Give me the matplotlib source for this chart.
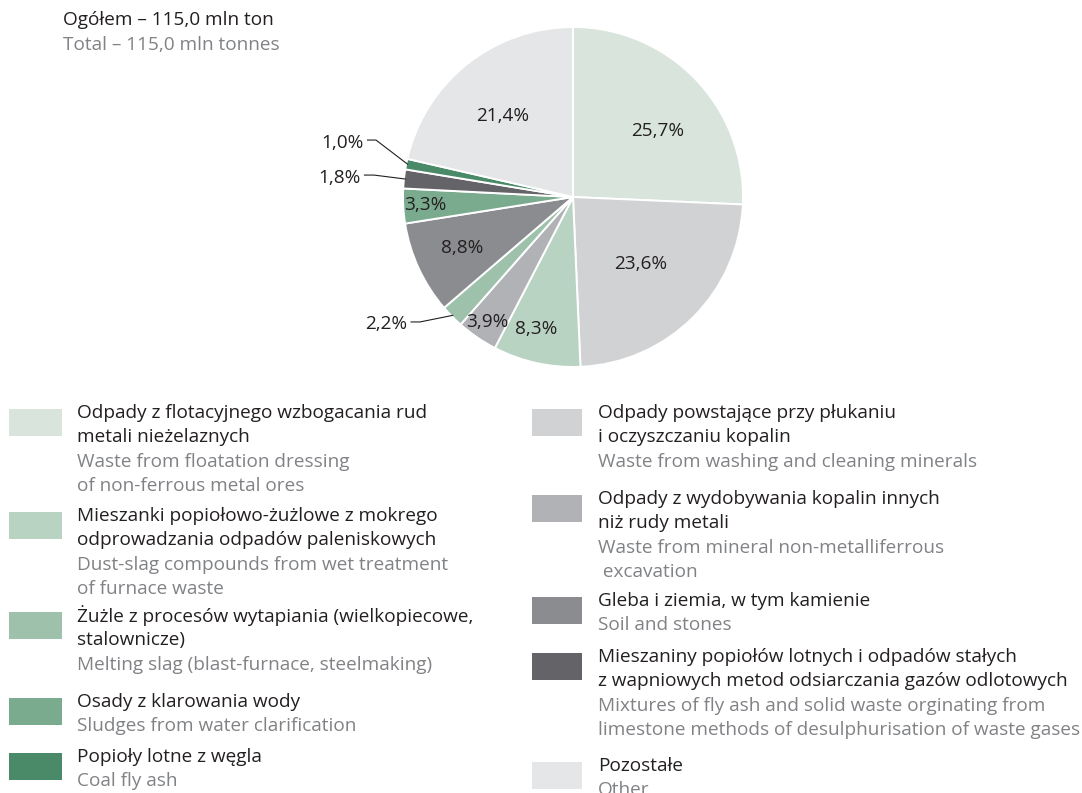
import math
import matplotlib
matplotlib.use("Agg")
import matplotlib.pyplot as plt
from matplotlib.patches import Rectangle

# ---- data -------------------------------------------------------------
shares = [25.7, 23.6, 8.3, 3.9, 2.2, 8.8, 3.3, 1.8, 1.0, 21.4]
share_labels = ["25,7%", "23,6%", "8,3%", "3,9%", "2,2%",
                "8,8%", "3,3%", "1,8%", "1,0%", "21,4%"]
colors = ["#d8e4dc", "#d1d2d4", "#b8d3c2", "#b1b2b6", "#9dc1ab",
          "#8b8c90", "#7bab8f", "#646367", "#4a8a68", "#e5e6e7"]

names_pl = [
    ["Odpady z flotacyjnego wzbogacania rud", "metali nieżelaznych"],
    ["Odpady powstające przy płukaniu", "i oczyszczaniu kopalin"],
    ["Mieszanki popiołowo-żużlowe z mokrego", "odprowadzania odpadów paleniskowych"],
    ["Odpady z wydobywania kopalin innych", "niż rudy metali"],
    ["Żużle z procesów wytapiania (wielkopiecowe,", "stalownicze)"],
    ["Gleba i ziemia, w tym kamienie"],
    ["Osady z klarowania wody"],
    ["Mieszaniny popiołów lotnych i odpadów stałych",
     "z wapniowych metod odsiarczania gazów odlotowych"],
    ["Popioły lotne z węgla"],
    ["Pozostałe"],
]
names_en = [
    ["Waste from floatation dressing", "of non-ferrous metal ores"],
    ["Waste from washing and cleaning minerals"],
    ["Dust-slag compounds from wet treatment", "of furnace waste"],
    ["Waste from mineral non-metalliferrous", " excavation"],
    ["Melting slag (blast-furnace, steelmaking)"],
    ["Soil and stones"],
    ["Sludges from water clarification"],
    ["Mixtures of fly ash and solid waste orginating from",
     "limestone methods of desulphurisation of waste gases"],
    ["Coal fly ash"],
    ["Other"],
]

title_pl = "Ogółem – 115,0 mln ton"
title_en = "Total – 115,0 mln tonnes"

# ---- styling ----------------------------------------------------------
plt.rcParams["font.family"] = ["Open Sans", "DejaVu Sans"]
FS = 13.65
DARK = "#231f20"
GREY = "#808285"
W, H = 1082, 793

fig = plt.figure(figsize=(W / 100, H / 100), dpi=100)
fig.patch.set_facecolor("white")

# full-figure overlay in pixel units for the title and legend
ov = fig.add_axes([0, 0, 1, 1])
ov.set_xlim(0, W)
ov.set_ylim(H, 0)
ov.axis("off")

ov.text(63, 20, title_pl, fontsize=FS, color=DARK, va="center")
ov.text(63, 45, title_en, fontsize=FS, color=GREY, va="center")

# ---- pie --------------------------------------------------------------
cx, cy, R = 573, 197, 170
pax = fig.add_axes([(cx - R) / W, 1 - (cy + R) / H, 2 * R / W, 2 * R / H])

wedges, _ = pax.pie(shares, colors=colors, startangle=90, counterclock=False,
                    radius=1.0, wedgeprops=dict(edgecolor="white", linewidth=1.4))
pax.set_xlim(-1, 1)
pax.set_ylim(-1, 1)
pax.set_aspect("equal")
pax.axis("off")

# inside labels: (radius fraction, clockwise angle shift in degrees)
label_pos = [(0.63, 6.0), (0.56, 0.0), (0.805, 3.0), (0.89, 0.0), None,
             (0.72, 0.0), (0.87, 0.0), None, None, (0.63, -2.3)]
# small slices: (text end x, line y, elbow x) in radius units
outside = {
    4: (-0.976, -0.735, -0.90),
    7: (-1.250, 0.129, -1.171),
    8: (-1.232, 0.335, -1.159),
}

total = sum(shares)
cum = 0.0
for i, v in enumerate(shares):
    mid = (cum + v / 2) / total * 360.0
    cum += v
    if label_pos[i] is not None:
        r, shift = label_pos[i]
        theta = math.radians(90 - mid - shift)
        pax.text(r * math.cos(theta), r * math.sin(theta), share_labels[i],
                 ha="center", va="center", fontsize=FS, color=DARK)
    else:
        theta = math.radians(90 - mid)
        tx, ly, ex = outside[i]
        ax_, ay_ = 0.99 * math.cos(theta), 0.99 * math.sin(theta)
        pax.plot([tx + 0.02, ex, ax_], [ly, ly, ay_], color=DARK, lw=0.8,
                 clip_on=False, solid_capstyle="butt")
        pax.text(tx, ly - 0.015, share_labels[i], ha="right", va="center",
                 fontsize=FS, color=DARK, clip_on=False)

# ---- legend -----------------------------------------------------------
LINE = 24.3
# (series index, first line centre y)
left_col = [(0, 413), (2, 516), (4, 616), (6, 702), (8, 757)]
right_col = [(1, 413), (3, 499), (5, 601), (7, 657), (9, 766)]


def draw_entry(idx, sx, sw, tx, y0):
    ov.add_patch(Rectangle((sx, y0 - 4), sw, 27, facecolor=colors[idx],
                           edgecolor="none"))
    y = y0
    for line in names_pl[idx]:
        ov.text(tx, y, line, fontsize=FS, color=DARK, va="center")
        y += LINE
    for line in names_en[idx]:
        ov.text(tx, y, line, fontsize=FS, color=GREY, va="center")
        y += LINE


for idx, y0 in left_col:
    draw_entry(idx, 9, 53, 77, y0)
for idx, y0 in right_col:
    draw_entry(idx, 532, 50, 598, y0)

fig.savefig("out.png", dpi=100, facecolor="white")
